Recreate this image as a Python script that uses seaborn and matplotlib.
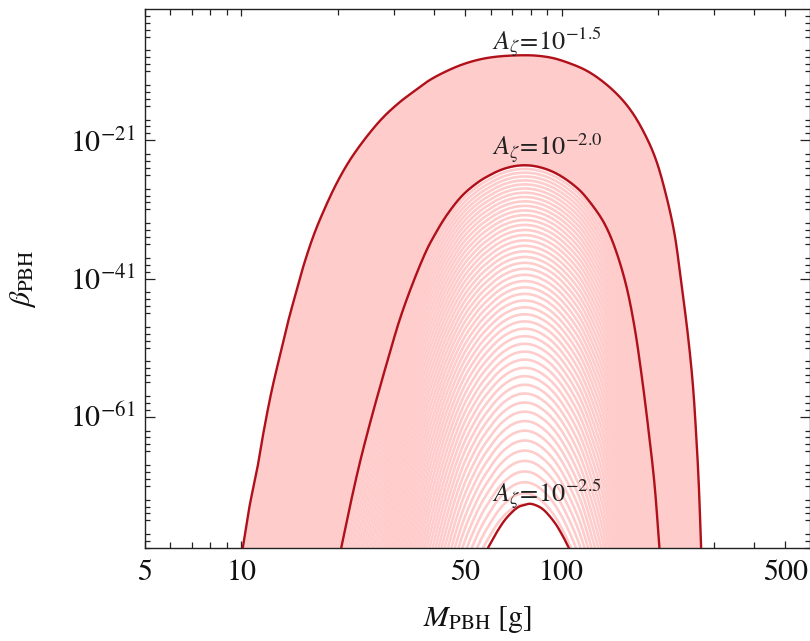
import numpy as np
import pandas as pd
import matplotlib
matplotlib.use('Agg')
import matplotlib.pyplot as plt
import seaborn as sns
from matplotlib.ticker import FixedLocator, FixedFormatter, NullFormatter

# curves: PBH mass [g] and log10(beta)
m_15 = [10.1, 10.6, 11.2, 11.7, 12.4, 13.2, 14.0, 14.9, 15.6, 16.8,
        18.0, 19.8, 21.8, 24.6, 27.7, 31.2, 34.4, 38.7, 43.7, 49.2,
        55.5, 62.6, 74.0, 83.4, 94.0, 105.9, 119.5, 134.6, 151.8, 167.0,
        183.8, 197.5, 212.3, 225.3, 236.4, 247.9, 257.0, 263.3, 268.3, 272.9]
logb_15 = [-80.0, -74.0, -68.6, -63.5, -57.5, -52.1, -47.2, -42.6, -39.3, -34.8,
           -31.4, -27.3, -23.9, -20.5, -17.7, -15.5, -14.0, -12.3, -11.0, -10.0,
           -9.3, -8.9, -8.7, -8.75, -9.1, -9.85, -10.9, -12.5, -14.7, -17.1,
           -20.5, -23.9, -29.0, -34.5, -41.5, -49.0, -56.2, -63.5, -70.7, -80.0]

m_20 = [20.5, 21.8, 23.4, 25.2, 27.1, 29.1, 31.2, 34.1, 37.8, 39.7,
        43.7, 49.2, 55.5, 59.6, 62.7, 66.4, 71.4, 76.7, 82.4, 88.5,
        93.8, 98.6, 103.7, 109.8, 116.6, 131.4, 139.2, 148.2, 159.2, 169.0,
        177.4, 186.0, 195.1, 202.2]
logb_20 = [-80.0, -74.1, -67.8, -62.0, -56.7, -51.7, -47.0, -42.0, -37.0, -35.1,
           -31.9, -28.9, -26.9, -26.06, -25.54, -25.09, -24.73, -24.61, -24.73, -25.09,
           -25.54, -26.06, -26.71, -27.58, -28.71, -31.86, -33.94, -37.1, -42.0, -48.0,
           -54.6, -62.1, -70.7, -80.0]

m_25 = [58.9, 62.6, 67.2, 73.1, 76.1, 79.5, 83.0, 87.5, 95.1, 101.0, 105.4]
logb_25 = [-80.0, -77.8, -75.7, -74.1, -73.8, -73.6, -73.8, -74.4, -76.3, -78.3, -80.0]

# the thin curves between A=10^-2.0 and 10^-2.5 (one every 0.01 in log A),
# taken as the A=10^-2.0 curve stretched about log10(beta) = family_offset
family_log_a = np.round(np.arange(-2.0, -2.505, -0.01), 2)
family_offset = -1.9

labels = [r'$A_{\zeta}\!=\!10^{-1.5}$', r'$A_{\zeta}\!=\!10^{-2.0}$', r'$A_{\zeta}\!=\!10^{-2.5}$']
label_m = [90, 90, 90]
label_logb = [-6.9, -22.2, -72.3]

x_ticks = [5, 10, 50, 100, 500]
x_minor = [6, 7, 8, 9, 20, 30, 40, 60, 70, 80, 90, 200, 300, 400]
y_ticks = [-21, -41, -61]
y_minor = [n for n in range(-3, -81, -1) if n not in y_ticks and (n + 2) % 5 != 0]

red = '#b0101a'
pink = '#ffcccc'


def smooth(m, logb, n=16):
    # centripetal Catmull-Rom through the read points, in screen-like units
    p = np.column_stack([np.log10(m) * 320.0, np.asarray(logb) * 6.9])
    p = np.vstack([2 * p[0] - p[1], p, 2 * p[-1] - p[-2]])
    out = []
    for i in range(1, len(p) - 2):
        p0, p1, p2, p3 = p[i - 1], p[i], p[i + 1], p[i + 2]
        t0 = 0.0
        t1 = t0 + np.linalg.norm(p1 - p0) ** 0.5
        t2 = t1 + np.linalg.norm(p2 - p1) ** 0.5
        t3 = t2 + np.linalg.norm(p3 - p2) ** 0.5
        t = np.linspace(t1, t2, n, endpoint=False)[:, None]
        a1 = (t1 - t) / (t1 - t0) * p0 + (t - t0) / (t1 - t0) * p1
        a2 = (t2 - t) / (t2 - t1) * p1 + (t - t1) / (t2 - t1) * p2
        a3 = (t3 - t) / (t3 - t2) * p2 + (t - t2) / (t3 - t2) * p3
        b1 = (t2 - t) / (t2 - t0) * a1 + (t - t0) / (t2 - t0) * a2
        b2 = (t3 - t) / (t3 - t1) * a2 + (t - t1) / (t3 - t1) * a3
        out.append((t2 - t) / (t2 - t1) * b1 + (t - t1) / (t2 - t1) * b2)
    out.append(p[-2][None, :])
    out = np.vstack(out)
    return 10 ** (out[:, 0] / 320.0), out[:, 1] / 6.9


sns.set_theme(style='ticks')
plt.rcParams['font.family'] = ['STIXGeneral', 'DejaVu Serif']
plt.rcParams['mathtext.fontset'] = 'stix'

fig = plt.figure(figsize=(8.1, 6.41), dpi=100)
ax = fig.add_axes([145 / 810, 1 - 548 / 641, 664.5 / 810, 539 / 641])
ax.set_xscale('log')
ax.set_yscale('log')

sm_15, sl_15 = smooth(m_15, logb_15)
sm_20, sl_20 = smooth(m_20, logb_20)
sm_25, sl_25 = smooth(m_25, logb_25)

ax.fill_between(sm_15, 10 ** sl_15, 1e-90, color=pink, lw=0, zorder=1)
ax.fill_between(sm_20, 10 ** sl_20, 1e-90, color='white', lw=0, zorder=1.5)

rows = []
for la in family_log_a:
    s = 10 ** (-2.0 - la)
    for m, lb in zip(sm_20, sl_20):
        rows.append((la, m, 10 ** (family_offset + (lb - family_offset) * s)))
family = pd.DataFrame(rows, columns=['logA', 'M', 'beta'])
sns.lineplot(data=family, x='M', y='beta', units='logA', estimator=None, sort=False,
             color=pink, lw=1.9, ax=ax, zorder=2)

ax.fill_between(sm_25, 10 ** sl_25, 1e-90, color='white', lw=0, zorder=2.5)

for m, lb in [(sm_15, sl_15), (sm_20, sl_20), (sm_25, sl_25)]:
    sns.lineplot(x=m, y=10 ** lb, estimator=None, sort=False, color=red, lw=1.7, ax=ax, zorder=3)

for t, m, lb in zip(labels, label_m, label_logb):
    ax.text(m, 10 ** lb, t, ha='center', va='center', fontsize=19, color='#222222', zorder=4)

ax.set_xlim(5, 595)
ax.set_ylim(1e-80, 1e-2)

ax.xaxis.set_major_locator(FixedLocator(x_ticks))
ax.xaxis.set_major_formatter(FixedFormatter([str(v) for v in x_ticks]))
ax.xaxis.set_minor_locator(FixedLocator(x_minor))
ax.xaxis.set_minor_formatter(NullFormatter())
ax.yaxis.set_major_locator(FixedLocator([10.0 ** n for n in y_ticks]))
ax.yaxis.set_major_formatter(FixedFormatter([r'$10^{%d}$' % n for n in y_ticks]))
ax.yaxis.set_minor_locator(FixedLocator([10.0 ** n for n in y_minor]))
ax.yaxis.set_minor_formatter(NullFormatter())

ax.tick_params(which='both', direction='in', top=True, right=True, color='#222222',
               labelsize=21.5, labelcolor='#111111', width=0.9)
ax.tick_params(axis='x', which='major', length=5, pad=8)
ax.tick_params(axis='x', which='minor', length=4)
ax.tick_params(axis='y', which='major', length=7, pad=7)
ax.tick_params(axis='y', which='minor', length=3.5)
for sp in ax.spines.values():
    sp.set_color('#222222')
    sp.set_linewidth(1.0)

ax.set_xlabel(r'$M_{\mathrm{PBH}}$ [g]', fontsize=21.5, color='#111111')
ax.set_ylabel(r'$\beta_{\mathrm{PBH}}$', fontsize=21.5, color='#111111')
ax.xaxis.set_label_coords(0.5, -0.104)
ax.yaxis.set_label_coords(-0.161, 0.5)

fig.savefig('out.png', dpi=100)
